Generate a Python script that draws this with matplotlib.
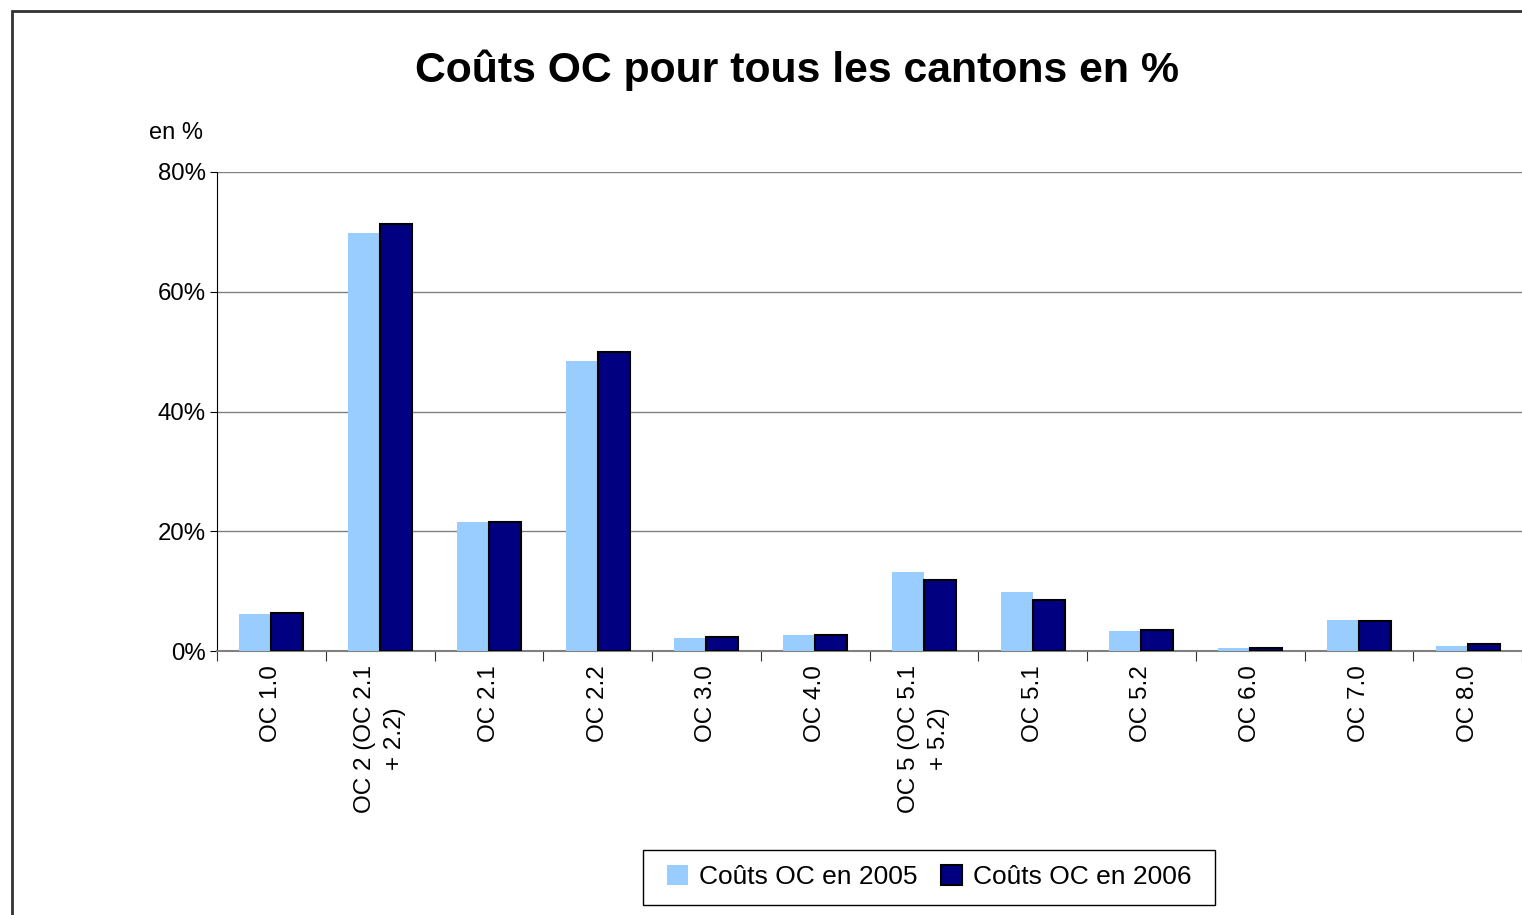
import matplotlib
matplotlib.use("Agg")
import matplotlib.pyplot as plt
import numpy as np
from matplotlib.patches import Rectangle

plt.rcParams['font.family'] = ['Liberation Sans', 'DejaVu Sans']

categories = ["OC 1.0", "OC 2 (OC 2.1\n+ 2.2)", "OC 2.1", "OC 2.2", "OC 3.0", "OC 4.0",
              "OC 5 (OC 5.1\n+ 5.2)", "OC 5.1", "OC 5.2", "OC 6.0", "OC 7.0", "OC 8.0"]
costs_2005 = [6.2, 69.8, 21.5, 48.4, 2.2, 2.7, 13.2, 9.8, 3.3, 0.5, 5.2, 0.8]
costs_2006 = [6.3, 71.3, 21.5, 49.9, 2.3, 2.7, 11.9, 8.5, 3.5, 0.5, 5.0, 1.2]
series_labels = ["Coûts OC en 2005", "Coûts OC en 2006"]
yticks = [0, 20, 40, 60, 80]

W, H = 1522, 915
fig = plt.figure(figsize=(W / 100, H / 100), dpi=100)

# outer chart frame
fig.patches.append(Rectangle((12 / W, -0.1), 1.2, 1 - 11 / H + 0.1, transform=fig.transFigure,
                             fill=False, edgecolor='#333333', linewidth=2))

ax = fig.add_axes([217 / W, 1 - 651 / H, (1522 - 217) / W, (651 - 172) / H])
x = np.arange(len(categories))
bw = 0.295
ax.bar(x - bw / 2, costs_2005, width=bw, color='#99CCFF', edgecolor='none', zorder=3,
       label=series_labels[0])
ax.bar(x + bw / 2, costs_2006, width=bw, color='#000080', edgecolor='black', linewidth=1.5,
       zorder=3, label=series_labels[1])

ax.set_xlim(-0.5, len(categories) - 0.5)
ax.set_ylim(0, 80)
ax.set_yticks(yticks)
ax.set_yticklabels([f"{v}%" for v in yticks], fontsize=17.3)
ax.yaxis.grid(True, color='#808080', linewidth=1, zorder=0)
ax.set_axisbelow(True)

ax.set_xticks(np.arange(len(categories) + 1) - 0.5, minor=False)
ax.set_xticklabels([])
ax.set_xticks(x, minor=True)
ax.set_xticklabels(categories, minor=True, rotation=90, fontsize=17.5, ha='center', va='top',
                   multialignment='center', linespacing=1.45)
ax.tick_params(axis='x', which='minor', length=0, pad=10)
ax.tick_params(axis='x', which='major', length=7, direction='out', color='#333333')
ax.tick_params(axis='y', length=5, direction='out', pad=3)

for s in ['top', 'right']:
    ax.spines[s].set_visible(False)
ax.spines['left'].set_color('black')
ax.spines['bottom'].set_color('#808080')
ax.spines['bottom'].set_linewidth(1.5)

fig.text(797 / W, 1 - 70 / H, "Coûts OC pour tous les cantons en %", ha='center', va='center',
         fontsize=30.8, fontweight='bold')
fig.text(176 / W, 1 - 133 / H, "en %", ha='center', va='center', fontsize=17)

leg = fig.legend(loc='center', bbox_to_anchor=(929 / W, 1 - 877 / H), ncol=2, fontsize=19,
                 frameon=False, handlelength=0.8, handleheight=0.8, handletextpad=0.4,
                 columnspacing=0.9, borderpad=0.5)
# legend box outline
fig.patches.append(Rectangle((643 / W, 1 - 905 / H), (1215 - 643) / W, 55 / H,
                             transform=fig.transFigure, fill=False, edgecolor='black',
                             linewidth=1))

fig.savefig("out.png", dpi=100)
